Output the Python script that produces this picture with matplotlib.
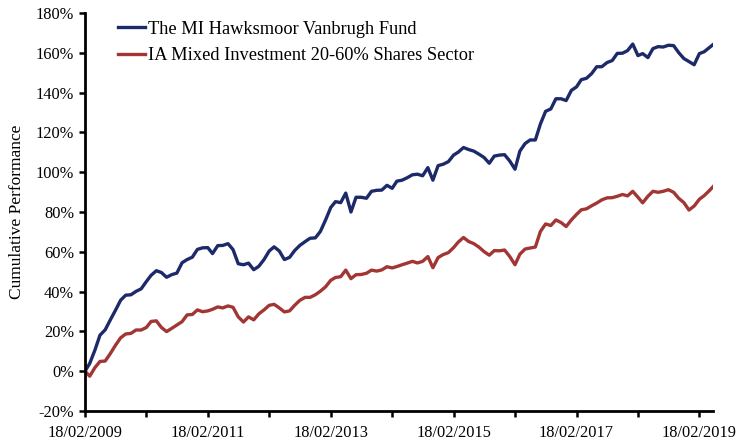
import matplotlib
matplotlib.use("Agg")
import matplotlib.pyplot as plt
import matplotlib.dates as mdates
import pandas as pd
from matplotlib.ticker import FixedLocator, FuncFormatter

# ---------------- data (monthly readings, cumulative % performance) ----------------
start_date = "2009-02-18"
n_months = 123
final_date = "2019-05-10"

fund = [0.0, 3.9, 10.6, 18.1, 20.8, 25.7, 30.6, 35.7, 38.2, 38.4,
        40.1, 41.4, 45.1, 48.2, 50.5, 49.6, 47.2, 48.5, 49.3, 54.5,
        56.1, 57.3, 61.2, 62.0, 62.1, 59.1, 63.1, 63.2, 64.1, 61.1,
        54.0, 53.5, 54.3, 51.0, 52.7, 56.1, 60.4, 62.5, 60.4, 56.1,
        57.2, 60.6, 63.2, 65.1, 66.8, 67.0, 70.2, 76.0, 82.3, 85.2,
        84.7, 89.5, 80.0, 87.4, 87.4, 86.9, 90.4, 90.9, 91.0, 93.4,
        91.9, 95.5, 96.0, 97.2, 98.7, 99.0, 98.2, 102.3, 96.0, 103.3,
        104.0, 105.3, 108.6, 110.1, 112.4, 111.4, 110.6, 109.1, 107.4, 104.5,
        108.1, 108.6, 108.8, 105.6, 101.5, 110.6, 114.4, 116.2, 116.2, 124.2,
        130.6, 131.8, 136.9, 136.9, 136.0, 141.1, 142.9, 146.5, 147.2, 149.5,
        153.0, 153.0, 155.1, 156.1, 159.7, 159.8, 161.1, 164.4, 158.6, 159.6,
        157.6, 162.1, 163.1, 162.9, 163.8, 163.6, 160.1, 157.1, 155.6, 154.0,
        159.6, 160.5, 162.6, 164.1]

sector = [0.0, -2.5, 1.8, 4.9, 5.1, 8.8, 13.0, 16.8, 18.7, 19.0,
          20.7, 20.7, 22.0, 25.0, 25.3, 22.0, 19.9, 21.5, 23.2, 24.9,
          28.3, 28.5, 30.8, 29.9, 30.3, 31.1, 32.3, 31.8, 32.8, 32.1,
          27.3, 24.7, 27.3, 25.8, 28.8, 30.8, 33.1, 33.6, 31.8, 29.8,
          30.3, 33.1, 35.6, 37.1, 37.1, 38.4, 40.2, 42.4, 45.7, 47.1,
          47.5, 50.8, 46.5, 48.5, 48.6, 49.2, 50.8, 50.3, 50.9, 52.5,
          51.9, 52.6, 53.5, 54.3, 55.2, 54.4, 55.2, 57.6, 52.0, 57.1,
          58.6, 59.6, 62.1, 64.9, 67.2, 65.2, 64.1, 62.4, 60.1, 58.3,
          60.6, 60.5, 60.9, 57.6, 53.5, 58.8, 61.4, 61.9, 62.4, 70.2,
          74.0, 73.2, 76.0, 74.7, 72.7, 76.0, 78.8, 81.1, 81.6, 83.1,
          84.5, 86.1, 87.1, 87.2, 87.9, 88.8, 88.1, 90.4, 87.4, 84.6,
          87.9, 90.4, 89.9, 90.4, 91.2, 89.9, 86.9, 84.7, 81.0, 83.0,
          86.4, 88.2, 90.7, 92.7]

series_names = ["The MI Hawksmoor Vanbrugh Fund",
                "IA Mixed Investment 20-60% Shares Sector"]
y_ticks = [-20, 0, 20, 40, 60, 80, 100, 120, 140, 160, 180]
x_tick_years = list(range(2009, 2020))
y_label = "Cumulative Performance"

# ---------------- build dates ----------------
dates = list(pd.date_range(start_date, periods=n_months, freq=pd.DateOffset(months=1)))
dates.append(pd.Timestamp(final_date))

# ---------------- plot ----------------
plt.rcParams["font.family"] = ["Liberation Serif", "DejaVu Serif"]

fig = plt.figure(figsize=(7.52, 4.43), dpi=100)
ax = fig.add_axes([85 / 752, 1 - 411 / 443, (713 - 85) / 752, (411 - 13) / 443])

blue = "#1d2a6a"
red = "#a23634"
ax.plot(dates, fund, color=blue, lw=2.4, label=series_names[0], solid_joinstyle="round")
ax.plot(dates, sector, color=red, lw=2.4, label=series_names[1], solid_joinstyle="round")

ax.set_ylim(-20, 180)
ax.set_xlim(pd.Timestamp(start_date), pd.Timestamp(final_date))

ax.yaxis.set_major_locator(FixedLocator(y_ticks))
ax.yaxis.set_major_formatter(FuncFormatter(lambda v, p: f"{int(round(v))}%"))

tick_dates = [pd.Timestamp(f"{y}-02-18") for y in x_tick_years]
ax.set_xticks([mdates.date2num(d) for d in tick_dates])
ax.set_xticklabels([d.strftime("%d/%m/%Y") if (d.year - 2009) % 2 == 0 else "" for d in tick_dates])

for s in ["top", "right"]:
    ax.spines[s].set_visible(False)
for s in ["left", "bottom"]:
    ax.spines[s].set_linewidth(2.0)
    ax.spines[s].set_color("black")

ax.tick_params(axis="both", direction="out", length=4, width=1.8, colors="black",
               labelsize=11.8, pad=4)
ax.tick_params(axis="x", pad=6)
ax.set_ylabel(y_label, fontsize=12.5, labelpad=8)

leg = ax.legend(loc="upper left", bbox_to_anchor=(0.035, 1.008), frameon=False,
                fontsize=13.2, handlelength=1.5, handletextpad=0.15,
                labelspacing=0.5, borderaxespad=0.2)

fig.savefig("out.png", dpi=100)
